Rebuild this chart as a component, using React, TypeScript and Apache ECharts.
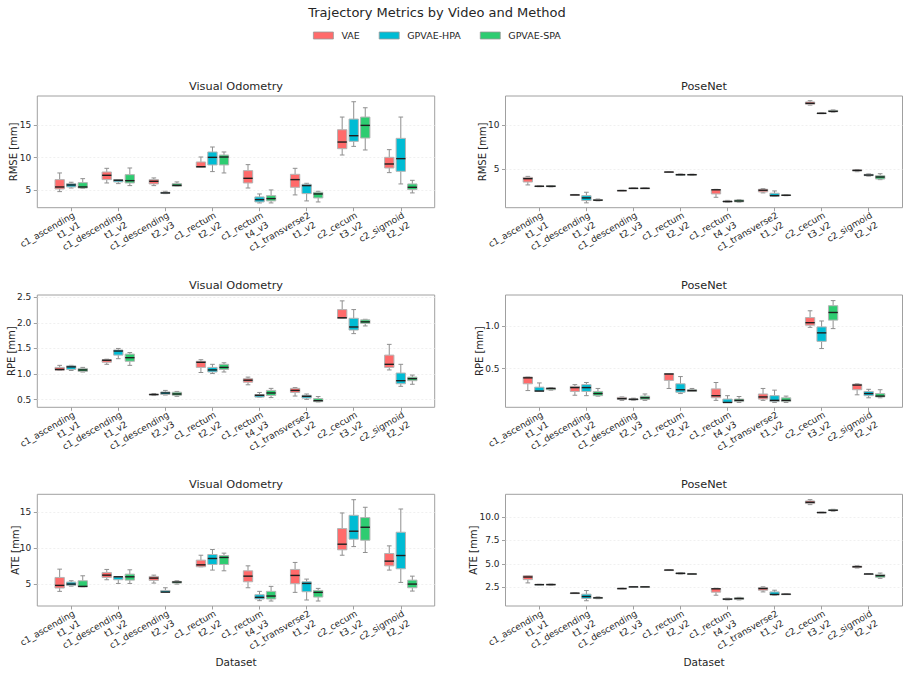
import React, { useEffect, useRef } from 'react';
import * as echarts from 'echarts';

const FONT = 'DejaVu Sans';

const categories = [
  'c1_ascending\nt1_v1',
  'c1_descending\nt1_v2',
  'c1_descending\nt2_v3',
  'c1_rectum\nt2_v2',
  'c1_rectum\nt4_v3',
  'c1_transverse2\nt1_v2',
  'c2_cecum\nt3_v2',
  'c2_sigmoid\nt2_v2',
];
const methods = ['VAE', 'GPVAE-HPA', 'GPVAE-SPA'];
const methodColors = ['#FF6B6B', '#00BCD4', '#2ECC71'];

// each entry: [lower whisker, Q1, median, Q3, upper whisker]
const rmseVoVae = [[4.74, 5.15, 5.46, 6.6, 7.63], [6.08, 6.6, 7.27, 7.78, 8.35], [5.67, 5.93, 6.34, 6.6, 6.86], [8.5, 8.5, 8.6, 9.33, 10.1], [5.3, 6.08, 6.8, 7.99, 8.92], [4.23, 5.41, 6.6, 7.42, 8.35], [10.41, 11.39, 12.42, 14.33, 16.29], [7.68, 8.4, 9.02, 10.05, 11.24]];
const rmseVoHpa = [[5.3, 5.46, 5.77, 5.98, 6.19], [5.98, 6.24, 6.5, 6.6, 6.6], [4.43, 4.48, 4.54, 4.64, 4.79], [7.84, 8.87, 10.05, 10.88, 11.65], [2.99, 3.14, 3.5, 3.92, 4.38], [3.3, 4.43, 5.67, 5.88, 6.03], [11.75, 12.53, 13.4, 15.98, 18.66], [5.93, 7.89, 9.85, 12.99, 16.29]];
const rmseVoSpa = [[5.26, 5.3, 5.46, 6.13, 6.75], [5.67, 6.08, 6.44, 7.37, 8.4], [5.57, 5.57, 5.72, 5.98, 6.24], [7.63, 8.87, 10.1, 10.41, 10.88], [2.99, 3.3, 3.66, 4.12, 5.0], [3.14, 3.76, 4.38, 4.64, 4.79], [11.19, 13.04, 15.0, 16.29, 17.73], [4.54, 5.05, 5.41, 5.93, 6.49]];

const rmsePnVae = [[3.2, 3.53, 3.91, 4.06, 4.17], [2.03, 2.05, 2.07, 2.09, 2.12], [2.53, 2.55, 2.56, 2.57, 2.59], [4.62, 4.64, 4.66, 4.68, 4.7], [1.8, 2.18, 2.65, 2.67, 2.7], [2.3, 2.41, 2.6, 2.71, 2.78], [12.25, 12.35, 12.45, 12.6, 12.75], [4.7, 4.78, 4.85, 4.9, 4.95]];
const rmsePnHpa = [[3.0, 3.03, 3.05, 3.08, 3.1], [1.17, 1.43, 1.73, 1.99, 2.37], [2.79, 2.81, 2.82, 2.83, 2.85], [4.28, 4.3, 4.36, 4.42, 4.45], [1.25, 1.28, 1.32, 1.38, 1.45], [1.9, 1.92, 1.99, 2.26, 2.52], [11.28, 11.3, 11.32, 11.34, 11.36], [4.2, 4.25, 4.32, 4.4, 4.45]];
const rmsePnSpa = [[2.98, 3.0, 3.05, 3.1, 3.12], [1.4, 1.43, 1.47, 1.55, 1.6], [2.79, 2.81, 2.82, 2.83, 2.85], [4.3, 4.32, 4.36, 4.4, 4.42], [1.25, 1.28, 1.38, 1.5, 1.55], [1.98, 2.0, 2.03, 2.07, 2.09], [11.45, 11.5, 11.54, 11.65, 11.7], [3.8, 3.87, 4.1, 4.25, 4.47]];

const rpeVoVae = [[1.07, 1.075, 1.09, 1.13, 1.17], [1.19, 1.23, 1.27, 1.28, 1.29], [0.58, 0.59, 0.6, 0.605, 0.62], [1.03, 1.13, 1.23, 1.25, 1.28], [0.79, 0.84, 0.88, 0.91, 0.94], [0.57, 0.64, 0.68, 0.72, 0.735], [2.09, 2.09, 2.1, 2.26, 2.43], [1.08, 1.13, 1.19, 1.37, 1.58]];
const rpeVoHpa = [[1.07, 1.09, 1.14, 1.16, 1.17], [1.3, 1.37, 1.45, 1.47, 1.5], [0.59, 0.6, 0.63, 0.65, 0.68], [1.01, 1.04, 1.08, 1.13, 1.19], [0.55, 0.55, 0.585, 0.6, 0.64], [0.505, 0.53, 0.565, 0.585, 0.61], [1.79, 1.86, 1.92, 2.09, 2.26], [0.76, 0.81, 0.87, 1.02, 1.19]];
const rpeVoSpa = [[1.04, 1.05, 1.08, 1.11, 1.13], [1.17, 1.25, 1.32, 1.39, 1.42], [0.565, 0.585, 0.61, 0.645, 0.66], [1.04, 1.09, 1.13, 1.19, 1.22], [0.54, 0.58, 0.63, 0.68, 0.72], [0.455, 0.46, 0.48, 0.52, 0.56], [1.94, 1.99, 2.02, 2.06, 2.07], [0.8, 0.87, 0.91, 0.94, 0.98]];

const rpePnVae = [[0.24, 0.32, 0.39, 0.4, 0.4], [0.185, 0.23, 0.275, 0.29, 0.31], [0.125, 0.135, 0.145, 0.16, 0.165], [0.265, 0.36, 0.435, 0.44, 0.44], [0.125, 0.155, 0.18, 0.26, 0.335], [0.125, 0.14, 0.165, 0.2, 0.265], [0.985, 1.01, 1.04, 1.1, 1.18], [0.19, 0.25, 0.305, 0.315, 0.32]];
const rpePnHpa = [[0.23, 0.23, 0.235, 0.28, 0.33], [0.18, 0.23, 0.275, 0.31, 0.335], [0.125, 0.13, 0.138, 0.14, 0.15], [0.205, 0.22, 0.25, 0.32, 0.405], [0.1, 0.1, 0.1, 0.14, 0.18], [0.1, 0.11, 0.125, 0.18, 0.245], [0.735, 0.82, 0.92, 0.99, 1.06], [0.155, 0.18, 0.205, 0.23, 0.255]];
const rpePnSpa = [[0.245, 0.25, 0.265, 0.27, 0.275], [0.175, 0.18, 0.205, 0.23, 0.265], [0.125, 0.135, 0.155, 0.175, 0.2], [0.23, 0.23, 0.24, 0.25, 0.265], [0.1, 0.11, 0.125, 0.14, 0.17], [0.1, 0.11, 0.125, 0.155, 0.175], [0.97, 1.07, 1.16, 1.24, 1.3], [0.155, 0.165, 0.175, 0.205, 0.25]];

const ateVoVae = [[3.99, 4.45, 4.82, 5.92, 7.07], [5.6, 5.92, 6.24, 6.61, 7.03], [5.14, 5.51, 5.83, 6.06, 6.24], [7.4, 7.4, 7.67, 8.32, 9.0], [4.49, 5.32, 6.1, 6.84, 7.53], [3.85, 5.05, 6.2, 7.03, 8.0], [9.0, 9.75, 10.53, 12.7, 14.86], [6.94, 7.53, 8.18, 9.24, 10.3]];
const ateVoHpa = [[4.72, 4.82, 5.0, 5.28, 5.46], [5.09, 5.6, 6.01, 6.01, 6.01], [3.85, 3.85, 3.89, 4.12, 4.49], [6.94, 7.72, 8.55, 9.1, 9.79], [2.7, 2.93, 3.16, 3.53, 3.99], [2.79, 3.94, 5.09, 5.32, 5.69], [10.2, 11.22, 12.33, 14.54, 16.7], [5.23, 7.12, 8.96, 12.19, 15.41]];
const ateVoSpa = [[4.63, 4.63, 4.68, 5.46, 6.15], [5.09, 5.55, 6.01, 6.38, 6.98], [5.0, 5.14, 5.28, 5.37, 5.46], [6.84, 7.72, 8.69, 8.96, 9.29], [2.65, 2.93, 3.34, 3.99, 4.68], [2.65, 3.2, 3.85, 4.12, 4.4], [9.38, 11.08, 12.88, 14.22, 15.65], [4.03, 4.49, 5.0, 5.55, 6.1]];

const atePnVae = [[2.96, 3.31, 3.59, 3.73, 3.73], [1.84, 1.85, 1.87, 1.88, 1.9], [2.33, 2.35, 2.36, 2.37, 2.39], [4.3, 4.32, 4.33, 4.34, 4.36], [1.65, 1.97, 2.33, 2.36, 2.39], [2.0, 2.18, 2.36, 2.46, 2.54], [11.3, 11.41, 11.55, 11.69, 11.83], [4.55, 4.62, 4.68, 4.75, 4.8]];
const atePnHpa = [[2.75, 2.77, 2.78, 2.79, 2.81], [1.06, 1.3, 1.51, 1.76, 2.15], [2.51, 2.53, 2.54, 2.55, 2.57], [3.9, 3.92, 3.98, 4.02, 4.05], [1.15, 1.18, 1.23, 1.3, 1.33], [1.66, 1.69, 1.73, 2.0, 2.18], [10.43, 10.45, 10.46, 10.47, 10.49], [3.88, 3.9, 3.91, 3.92, 3.94]];
const atePnSpa = [[2.72, 2.74, 2.78, 2.82, 2.84], [1.28, 1.32, 1.37, 1.42, 1.47], [2.51, 2.53, 2.54, 2.55, 2.57], [3.88, 3.89, 3.91, 3.93, 3.95], [1.15, 1.2, 1.3, 1.37, 1.42], [1.74, 1.75, 1.76, 1.77, 1.78], [10.6, 10.66, 10.7, 10.75, 10.8], [3.45, 3.56, 3.73, 3.87, 4.01]];

const rmseVoTicks = [5, 10, 15];
const rmsePnTicks = [5, 10];
const rpeVoTicks = [0.5, 1.0, 1.5, 2.0, 2.5];
const rpePnTicks = [0.5, 1.0];
const ateVoTicks = [5, 10, 15];
const atePnTicks = [2.5, 5.0, 7.5, 10.0];

const panels = [
  { title: 'Visual Odometry', yName: 'RMSE [mm]', data: [rmseVoVae, rmseVoHpa, rmseVoSpa], ticks: rmseVoTicks, dec: 0, min: 2.25, max: 19.55, col: 0, row: 0, gap: 18.5 },
  { title: 'PoseNet', yName: 'RMSE [mm]', data: [rmsePnVae, rmsePnHpa, rmsePnSpa], ticks: rmsePnTicks, dec: 0, min: 0.62, max: 13.28, col: 1, row: 0, gap: 18.3 },
  { title: 'Visual Odometry', yName: 'RPE [mm]', data: [rpeVoVae, rpeVoHpa, rpeVoSpa], ticks: rpeVoTicks, dec: 1, min: 0.35, max: 2.545, col: 0, row: 1, gap: 21 },
  { title: 'PoseNet', yName: 'RPE [mm]', data: [rpePnVae, rpePnHpa, rpePnSpa], ticks: rpePnTicks, dec: 1, min: 0.043, max: 1.366, col: 1, row: 1, gap: 21 },
  { title: 'Visual Odometry', yName: 'ATE [mm]', data: [ateVoVae, ateVoHpa, ateVoSpa], ticks: ateVoTicks, dec: 0, min: 1.96, max: 17.45, col: 0, row: 2, gap: 17 },
  { title: 'PoseNet', yName: 'ATE [mm]', data: [atePnVae, atePnHpa, atePnSpa], ticks: atePnTicks, dec: 1, min: 0.5, max: 12.4, col: 1, row: 2, gap: 27 },
];

const colLeft = [37.3, 505.5];
const colWidth = [397.4, 397];
const rowTop = [96, 295, 494.3];
const rowHeight = [111.7, 112.3, 111.7];
const catIdx = categories.map((_, i) => i);
const offsets = [-0.245, 0, 0.245];
const TEXT = '#262626';
const FRAME = '#a0a0a0';

function makeRender(method: number) {
  return (params: any, api: any) => {
    const i = api.value(0);
    const lo = api.value(1), q1 = api.value(2), med = api.value(3), q3 = api.value(4), hi = api.value(5);
    const unit = api.size([1, 0])[0];
    const cx = api.coord([i, med])[0] + offsets[method] * unit;
    const y = (v: number) => api.coord([i, v])[1];
    const bw = 0.198 * unit;
    const half = bw / 2;
    const cap = bw / 4;
    const wStyle = { stroke: '#8f8f8f', lineWidth: 1 };
    const yq3 = y(q3), yq1 = y(q1);
    return {
      type: 'group',
      children: [
        { type: 'line', shape: { x1: cx, y1: y(hi), x2: cx, y2: yq3 }, style: wStyle },
        { type: 'line', shape: { x1: cx, y1: yq1, x2: cx, y2: y(lo) }, style: wStyle },
        { type: 'line', shape: { x1: cx - cap, y1: y(hi), x2: cx + cap, y2: y(hi) }, style: wStyle },
        { type: 'line', shape: { x1: cx - cap, y1: y(lo), x2: cx + cap, y2: y(lo) }, style: wStyle },
        {
          type: 'rect',
          shape: { x: cx - half, y: yq3, width: bw, height: Math.max(yq1 - yq3, 0.6) },
          style: { fill: methodColors[method], stroke: '#b4b4b4', lineWidth: 1 },
        },
        { type: 'line', shape: { x1: cx - half, y1: y(med), x2: cx + half, y2: y(med) }, style: { stroke: '#1f1f1f', lineWidth: 1.4 } },
      ],
    };
  };
}

export default function App() {
  const ref = useRef<HTMLDivElement>(null);
  useEffect(() => {
    if (!ref.current) return;
    const chart = echarts.init(ref.current, null, { renderer: 'svg' });
    const grid: any[] = [];
    const xAxis: any[] = [];
    const yAxis: any[] = [];
    const series: any[] = [];
    const graphics: any[] = [];
    panels.forEach((p, k) => {
      grid.push({
        left: colLeft[p.col], top: rowTop[p.row], width: colWidth[p.col], height: rowHeight[p.row],
        show: true, borderColor: FRAME, borderWidth: 1, backgroundColor: 'transparent',
        containLabel: false, outerBoundsMode: 'none',
      });
      xAxis.push({
        gridIndex: k, type: 'value', min: -0.72, max: 7.72, position: 'bottom',
        axisLine: { show: false, onZero: false },
        splitLine: { show: false },
        axisTick: { show: true, customValues: catIdx, length: 3.5, lineStyle: { color: FRAME } },
        axisLabel: {
          customValues: catIdx, rotate: 30, fontSize: 9, fontFamily: FONT, color: TEXT, margin: 2, lineHeight: 11,
          align: 'right', verticalAlign: 'top',
          formatter: (v: number) => categories[Math.round(v)],
        },
        name: p.row === 2 ? 'Dataset' : '',
        nameLocation: 'middle', nameGap: 50, nameMoveOverlap: false,
        nameTextStyle: { fontSize: 10.5, fontFamily: FONT, color: TEXT },
      });
      yAxis.push({
        gridIndex: k, type: 'value', min: p.min, max: p.max, position: 'left',
        axisLine: { show: false, onZero: false },
        axisTick: { show: true, customValues: p.ticks, length: 3.5, lineStyle: { color: FRAME } },
        axisLabel: {
          customValues: p.ticks, fontSize: 9, fontFamily: FONT, color: TEXT, margin: 6,
          formatter: (v: number) => v.toFixed(p.dec),
        },
        splitLine: { show: true, lineStyle: { color: '#ececec', width: 0.8, type: [2, 2] } },
        name: p.yName, nameLocation: 'middle', nameGap: p.gap, nameMoveOverlap: false,
        nameTextStyle: { fontSize: 10, fontFamily: FONT, color: TEXT },
      });
      p.data.forEach((arr, m) => {
        series.push({
          type: 'custom', name: methods[m], xAxisIndex: k, yAxisIndex: k,
          itemStyle: { color: methodColors[m] },
          encode: { x: 0, y: [1, 2, 3, 4, 5] },
          data: arr.map((d, i) => [i, ...d]),
          renderItem: makeRender(m),
          clip: false,
        });
      });
      graphics.push({
        type: 'text',
        x: colLeft[p.col] + colWidth[p.col] / 2,
        y: rowTop[p.row] - 9.5,
        style: { text: p.title, fontSize: 11.3, fontFamily: FONT, fill: TEXT, align: 'center', verticalAlign: 'middle' },
      });
    });
    graphics.push({
      type: 'text', x: 437, y: 12,
      style: { text: 'Trajectory Metrics by Video and Method', fontSize: 13, fontFamily: FONT, fill: TEXT, align: 'center', verticalAlign: 'middle' },
    });
    chart.setOption({
      animation: false,
      backgroundColor: '#ffffff',
      textStyle: { fontFamily: FONT },
      legend: {
        data: methods, left: 308, top: 25.5, itemWidth: 20, itemHeight: 7, itemGap: 19, icon: 'rect',
        itemStyle: { borderColor: '#9a9a9a', borderWidth: 0.8 },
        textStyle: { fontSize: 9.5, fontFamily: FONT, color: TEXT, padding: [0, 0, 0, 3] },
        selectedMode: false,
      },
      grid, xAxis, yAxis, series,
      graphic: graphics,
    });
    return () => chart.dispose();
  }, []);
  return <div ref={ref} style={{ position: 'fixed', left: 0, top: 0, width: 909, height: 673 }} />;
}
